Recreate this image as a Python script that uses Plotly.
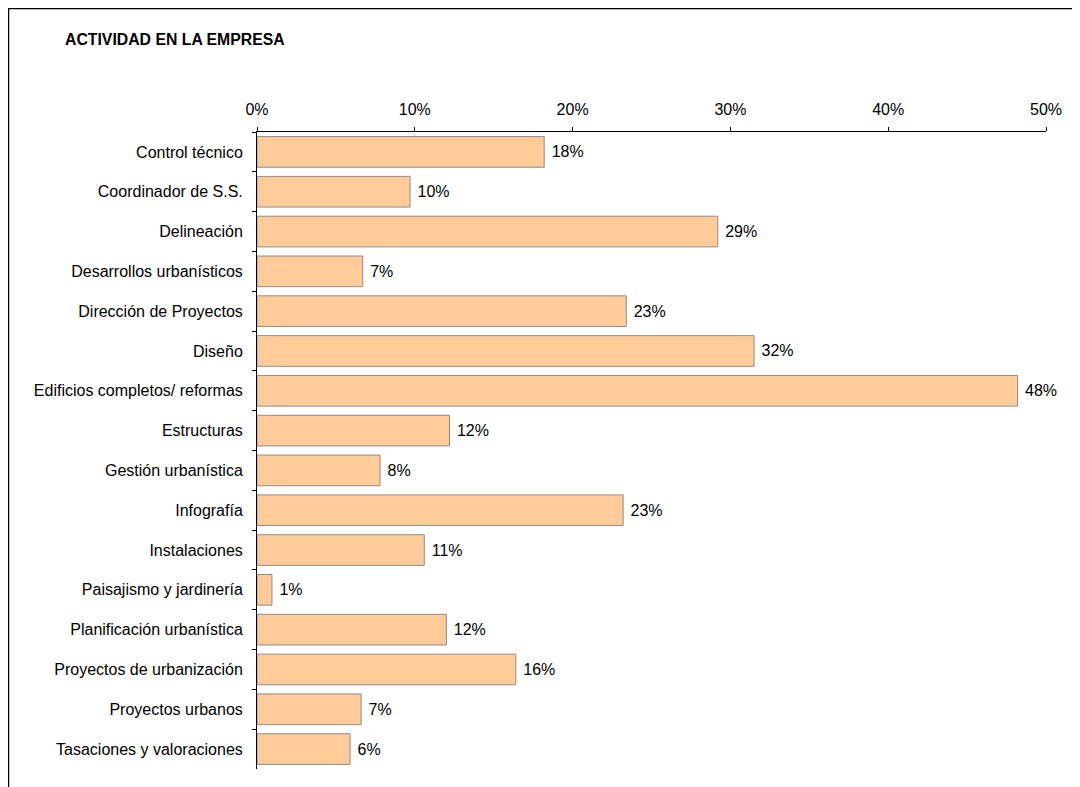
import plotly.graph_objects as go

categories = [
    "Control técnico",
    "Coordinador de S.S.",
    "Delineación",
    "Desarrollos urbanísticos",
    "Dirección de Proyectos",
    "Diseño",
    "Edificios completos/ reformas",
    "Estructuras",
    "Gestión urbanística",
    "Infografía",
    "Instalaciones",
    "Paisajismo y jardinería",
    "Planificación urbanística",
    "Proyectos de urbanización",
    "Proyectos urbanos",
    "Tasaciones y valoraciones",
]
values = [0.182, 0.097, 0.292, 0.067, 0.234, 0.315, 0.482, 0.122,
          0.078, 0.232, 0.106, 0.0095, 0.12, 0.164, 0.066, 0.059]
tick_values = [0, 0.1, 0.2, 0.3, 0.4, 0.5]

# page has an 8px body margin, so the figure is drawn 8px in from the corner
W, H = 1072, 779
L, R, T, B = 249, 34, 124, 18
pw, ph = W - L - R, H - T - B

fig = go.Figure()

fig.add_trace(
    go.Bar(
        x=values,
        y=categories,
        orientation="h",
        marker=dict(color="#FFCC99", line=dict(color="#8C8C8C", width=1)),
        texttemplate=" %{x:.0%}",
        textposition="outside",
        textfont=dict(size=16, color="black"),
        cliponaxis=False,
        hoverinfo="skip",
    )
)

# outer frame (left and top edges visible)
fig.add_shape(
    type="rect",
    xref="paper", yref="paper",
    x0=(0.5 - L) / pw, x1=(W + 10 - L) / pw,
    y0=(H - B - (H + 10)) / ph, y1=(H - B - 0.5) / ph,
    line=dict(color="black", width=1.5),
    fillcolor="rgba(0,0,0,0)",
)

fig.add_annotation(
    x=(55 - L) / pw, y=(H - B - 32) / ph,
    xref="paper", yref="paper",
    xanchor="left", yanchor="middle",
    showarrow=False,
    text="<b>ACTIVIDAD EN LA EMPRESA</b>",
    font=dict(size=15.8, color="black"),
)

fig.update_xaxes(
    side="top",
    range=[0, 0.5],
    tickvals=tick_values,
    tickformat=".0%",
    ticks="outside",
    ticklen=4,
    tickcolor="black",
    ticklabelstandoff=6,
    showline=True,
    linecolor="black",
    linewidth=1,
    showgrid=False,
    zeroline=False,
    tickfont=dict(size=16, color="black"),
)
fig.update_yaxes(
    autorange="reversed",
    tickson="boundaries",
    ticks="outside",
    ticklen=4,
    tickcolor="black",
    ticklabelstandoff=10,
    showline=True,
    linecolor="black",
    linewidth=1,
    showgrid=False,
    tickfont=dict(size=16, color="black"),
)

fig.update_layout(
    width=W,
    height=H,
    margin=dict(l=L, r=R, t=T, b=B, autoexpand=False),
    bargap=0.23,
    plot_bgcolor="white",
    paper_bgcolor="white",
    font=dict(family="Liberation Sans, Arial, sans-serif", color="black"),
    showlegend=False,
)

fig.write_html("out.html")
